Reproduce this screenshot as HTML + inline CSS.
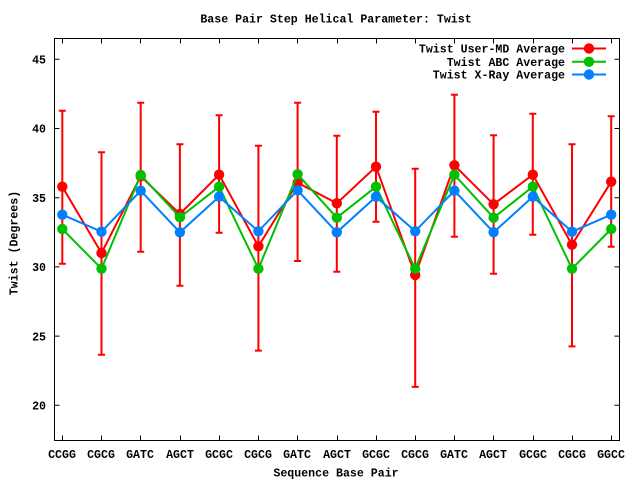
<!DOCTYPE html>
<html><head><meta charset="utf-8"><style>
html,body{margin:0;padding:0;background:#fff;}
svg{display:block;}
text{font-family:"Liberation Mono","DejaVu Sans Mono",monospace;font-weight:bold;font-size:11.6px;fill:#000;}
</style></head><body>
<svg width="640" height="480" viewBox="0 0 640 480" xmlns="http://www.w3.org/2000/svg">
<rect width="640" height="480" fill="#fff"/>
<text x="336" y="22.7" text-anchor="middle">Base Pair Step Helical Parameter: Twist</text>
<!-- frame -->
<rect x="54.5" y="38.5" width="565" height="402" fill="none" stroke="#000" stroke-width="1"/>
<!-- y ticks -->
<g stroke="#000" stroke-width="1">
<path d="M54.5 405.3h5M54.5 336.1h5M54.5 266.9h5M54.5 197.7h5M54.5 128.5h5M54.5 59.3h5"/>
<path d="M619.5 405.3h-5M619.5 336.1h-5M619.5 266.9h-5M619.5 197.7h-5M619.5 128.5h-5M619.5 59.3h-5"/>
<path d="M62.5 440.5v-5M101.5 440.5v-5M140.5 440.5v-5M180.5 440.5v-5M219.5 440.5v-5M258.5 440.5v-5M297.5 440.5v-5M337.5 440.5v-5M376.5 440.5v-5M415.5 440.5v-5M454.5 440.5v-5M493.5 440.5v-5M533.5 440.5v-5M572.5 440.5v-5M611.5 440.5v-5"/>
<path d="M62.5 38.5v5M101.5 38.5v5M140.5 38.5v5M180.5 38.5v5M219.5 38.5v5M258.5 38.5v5M297.5 38.5v5M337.5 38.5v5M376.5 38.5v5M415.5 38.5v5M454.5 38.5v5M493.5 38.5v5M533.5 38.5v5M572.5 38.5v5M611.5 38.5v5"/>
</g>
<g text-anchor="end">
<text x="46" y="409.5">20</text>
<text x="46" y="340.3">25</text>
<text x="46" y="271.1">30</text>
<text x="46" y="201.9">35</text>
<text x="46" y="132.7">40</text>
<text x="46" y="63.5">45</text>
</g>
<g text-anchor="middle">
<text x="62" y="458.2">CCGG</text>
<text x="101" y="458.2">CGCG</text>
<text x="140" y="458.2">GATC</text>
<text x="180" y="458.2">AGCT</text>
<text x="219" y="458.2">GCGC</text>
<text x="258" y="458.2">CGCG</text>
<text x="297" y="458.2">GATC</text>
<text x="337" y="458.2">AGCT</text>
<text x="376" y="458.2">GCGC</text>
<text x="415" y="458.2">CGCG</text>
<text x="454" y="458.2">GATC</text>
<text x="493" y="458.2">AGCT</text>
<text x="533" y="458.2">GCGC</text>
<text x="572" y="458.2">CGCG</text>
<text x="611" y="458.2">GGCC</text>
<text x="336" y="476.7">Sequence Base Pair</text>
</g>
<text transform="translate(17.5,243) rotate(-90)" text-anchor="middle">Twist (Degrees)</text>

<!-- red series: error bars -->
<g stroke="#ff0000" stroke-width="2" fill="none">
<path d="M62.3 110.7V263.7M58.8 110.7h7M58.8 263.7h7"/>
<path d="M101.5 152.3V354.7M98 152.3h7M98 354.7h7"/>
<path d="M140.7 102.7V251.7M137.2 102.7h7M137.2 251.7h7"/>
<path d="M179.9 144.3V285.7M176.4 144.3h7M176.4 285.7h7"/>
<path d="M219.1 115.3V232.7M215.6 115.3h7M215.6 232.7h7"/>
<path d="M258.4 145.7V350.6M254.9 145.7h7M254.9 350.6h7"/>
<path d="M297.6 102.7V261M294.1 102.7h7M294.1 261h7"/>
<path d="M336.8 135.7V271.7M333.3 135.7h7M333.3 271.7h7"/>
<path d="M376 111.7V221.7M372.5 111.7h7M372.5 221.7h7"/>
<path d="M415.2 168.7V386.9M411.7 168.7h7M411.7 386.9h7"/>
<path d="M454.4 94.7V236.7M450.9 94.7h7M450.9 236.7h7"/>
<path d="M493.6 135.3V273.7M490.1 135.3h7M490.1 273.7h7"/>
<path d="M532.8 113.7V234.7M529.3 113.7h7M529.3 234.7h7"/>
<path d="M572 144.3V346.4M568.5 144.3h7M568.5 346.4h7"/>
<path d="M611.2 116.3V246.7M607.7 116.3h7M607.7 246.7h7"/>
<polyline points="62.3,186.7 101.5,253 140.7,176.3 179.9,214 219.1,174.7 258.4,246.3 297.6,182.7 336.8,203.3 376,166.7 415.2,275 454.4,165.3 493.6,204.3 532.8,174.7 572,244.7 611.2,181.7"/>
</g>
<g fill="#ff0000">
<circle cx="62.3" cy="186.7" r="5.2"/><circle cx="101.5" cy="253" r="5.2"/><circle cx="140.7" cy="176.3" r="5.2"/><circle cx="179.9" cy="214" r="5.2"/><circle cx="219.1" cy="174.7" r="5.2"/><circle cx="258.4" cy="246.3" r="5.2"/><circle cx="297.6" cy="182.7" r="5.2"/><circle cx="336.8" cy="203.3" r="5.2"/><circle cx="376" cy="166.7" r="5.2"/><circle cx="415.2" cy="275" r="5.2"/><circle cx="454.4" cy="165.3" r="5.2"/><circle cx="493.6" cy="204.3" r="5.2"/><circle cx="532.8" cy="174.7" r="5.2"/><circle cx="572" cy="244.7" r="5.2"/><circle cx="611.2" cy="181.7" r="5.2"/>
</g>
<!-- green -->
<polyline fill="none" stroke="#00c000" stroke-width="2" points="62.3,229 101.5,268.7 140.7,175 179.9,217.3 219.1,186.7 258.4,268.7 297.6,174.3 336.8,217.7 376,186.7 415.2,268.7 454.4,174.7 493.6,217.7 532.8,186.7 572,268.7 611.2,229"/>
<g fill="#00c000">
<circle cx="62.3" cy="229" r="5.2"/><circle cx="101.5" cy="268.7" r="5.2"/><circle cx="140.7" cy="175" r="5.2"/><circle cx="179.9" cy="217.3" r="5.2"/><circle cx="219.1" cy="186.7" r="5.2"/><circle cx="258.4" cy="268.7" r="5.2"/><circle cx="297.6" cy="174.3" r="5.2"/><circle cx="336.8" cy="217.7" r="5.2"/><circle cx="376" cy="186.7" r="5.2"/><circle cx="415.2" cy="268.7" r="5.2"/><circle cx="454.4" cy="174.7" r="5.2"/><circle cx="493.6" cy="217.7" r="5.2"/><circle cx="532.8" cy="186.7" r="5.2"/><circle cx="572" cy="268.7" r="5.2"/><circle cx="611.2" cy="229" r="5.2"/>
</g>
<!-- blue -->
<polyline fill="none" stroke="#0080ff" stroke-width="2" points="62.3,214.7 101.5,231.7 140.7,190.7 179.9,232.3 219.1,196.7 258.4,231.3 297.6,190.3 336.8,232.3 376,196.7 415.2,231.3 454.4,190.7 493.6,232.3 532.8,196.7 572,231.7 611.2,214.7"/>
<g fill="#0080ff">
<circle cx="62.3" cy="214.7" r="5.2"/><circle cx="101.5" cy="231.7" r="5.2"/><circle cx="140.7" cy="190.7" r="5.2"/><circle cx="179.9" cy="232.3" r="5.2"/><circle cx="219.1" cy="196.7" r="5.2"/><circle cx="258.4" cy="231.3" r="5.2"/><circle cx="297.6" cy="190.3" r="5.2"/><circle cx="336.8" cy="232.3" r="5.2"/><circle cx="376" cy="196.7" r="5.2"/><circle cx="415.2" cy="231.3" r="5.2"/><circle cx="454.4" cy="190.7" r="5.2"/><circle cx="493.6" cy="232.3" r="5.2"/><circle cx="532.8" cy="196.7" r="5.2"/><circle cx="572" cy="231.7" r="5.2"/><circle cx="611.2" cy="214.7" r="5.2"/>
</g>
<!-- legend -->
<g text-anchor="end">
<text x="565" y="52.7">Twist User-MD Average</text>
<text x="565" y="66">Twist ABC Average</text>
<text x="565" y="78.7">Twist X-Ray Average</text>
</g>
<path d="M572 48.5H606" stroke="#ff0000" stroke-width="2"/>
<circle cx="589" cy="48.5" r="5.2" fill="#ff0000"/>
<path d="M572 61.8H606" stroke="#00c000" stroke-width="2"/>
<circle cx="589" cy="61.8" r="5.2" fill="#00c000"/>
<path d="M572 74.5H606" stroke="#0080ff" stroke-width="2"/>
<circle cx="589" cy="74.5" r="5.2" fill="#0080ff"/>
</svg>
</body></html>
